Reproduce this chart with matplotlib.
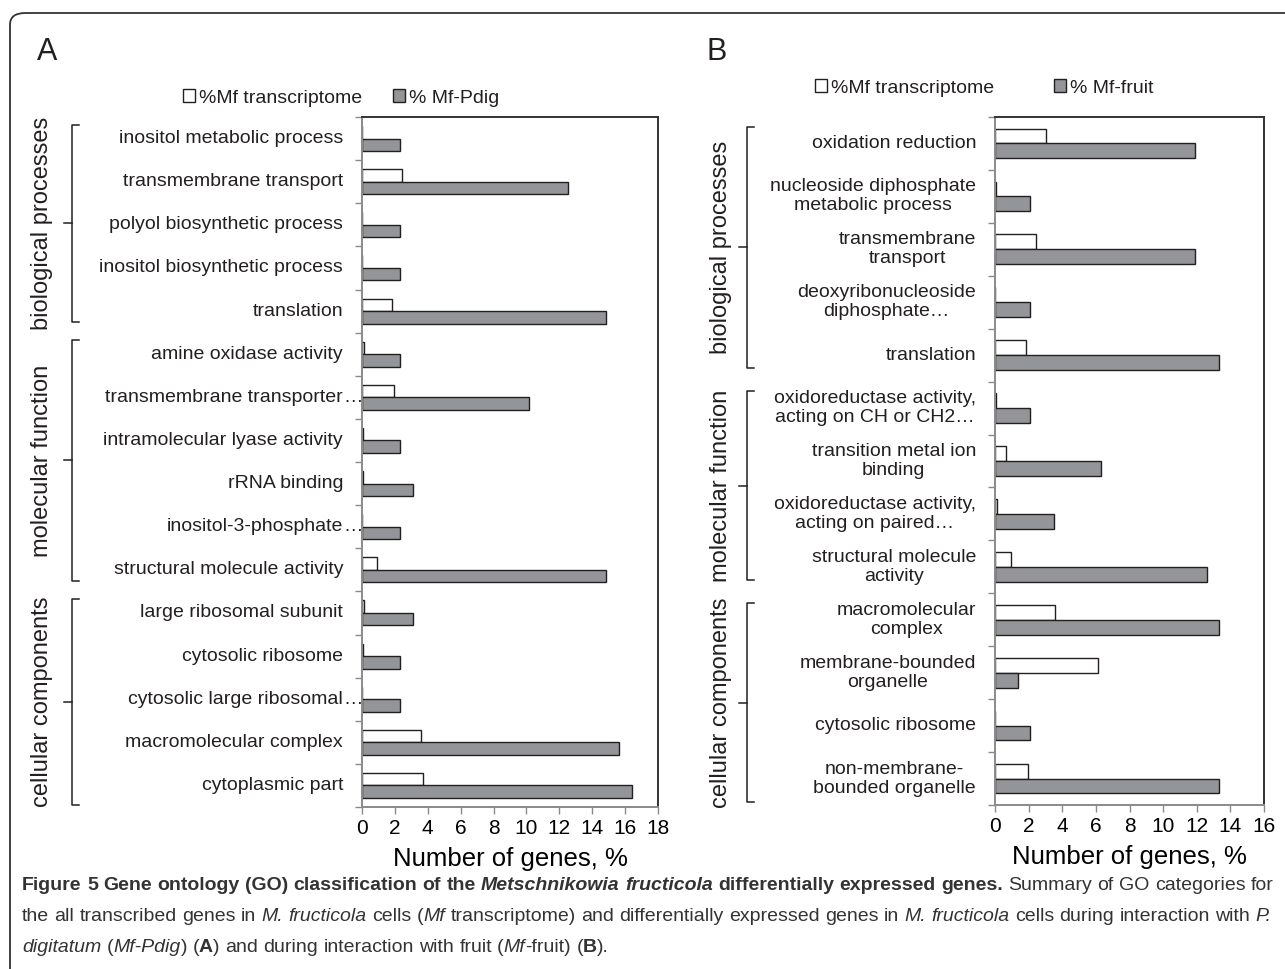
import re
import matplotlib
matplotlib.use('Agg')
import matplotlib.pyplot as plt
from matplotlib import font_manager, transforms
from matplotlib.patches import FancyBboxPatch
from matplotlib.lines import Line2D

# panel A: Mf-Pdig
a_cats = ['inositol metabolic process', 'transmembrane transport', 'polyol biosynthetic process',
          'inositol biosynthetic process', 'translation', 'amine oxidase activity',
          'transmembrane transporter…', 'intramolecular lyase activity', 'rRNA binding',
          'inositol-3-phosphate…', 'structural molecule activity', 'large ribosomal subunit',
          'cytosolic ribosome', 'cytosolic large ribosomal…', 'macromolecular complex',
          'cytoplasmic part']
a_transcriptome = [0.0, 2.45, 0.0, 0.0, 1.82, 0.1, 1.97, 0.05, 0.05, 0.0, 0.93, 0.1, 0.05, 0.0, 3.59, 3.71]
a_pdig = [2.31, 12.5, 2.31, 2.31, 14.84, 2.31, 10.18, 2.31, 3.12, 2.31, 14.84, 3.12, 2.31, 2.31, 15.65, 16.44]
a_groups = [('biological processes', 0, 5), ('molecular function', 5, 11), ('cellular components', 11, 16)]

# panel B: Mf-fruit
b_cats = ['oxidation reduction', 'nucleoside diphosphate\nmetabolic process', 'transmembrane\ntransport',
          'deoxyribonucleoside\ndiphosphate…', 'translation', 'oxidoreductase activity,\nacting on CH or CH2…',
          'transition metal ion\nbinding', 'oxidoreductase activity,\nacting on paired…',
          'structural molecule\nactivity', 'macromolecular\ncomplex', 'membrane-bounded\norganelle',
          'cytosolic ribosome', 'non-membrane-\nbounded organelle']
b_transcriptome = [3.06, 0.03, 2.46, 0.0, 1.83, 0.05, 0.65, 0.1, 0.95, 3.59, 6.12, 0.02, 1.95]
b_fruit = [11.89, 2.08, 11.89, 2.08, 13.3, 2.08, 6.3, 3.5, 12.6, 13.3, 1.39, 2.08, 13.3]
b_groups = [('biological processes', 0, 5), ('molecular function', 5, 9), ('cellular components', 9, 13)]

W, H = 1285, 969
DARK = '#231f20'
GREY = '#939598'
AXGREY = '#8a8a8a'

plt.rcParams['font.family'] = ['Liberation Sans', 'DejaVu Sans']
plt.rcParams['text.color'] = DARK

fig = plt.figure(figsize=(W / 100, H / 100), dpi=100)


def fx(x):
    return x / W


def fy(y):
    return 1 - y / H


# outer frame with rounded corner
frame = FancyBboxPatch((fx(10), fy(1010)), fx(1320), 1010 / H - 13 / H,
                       boxstyle='round,pad=0,rounding_size=0.012', transform=fig.transFigure,
                       facecolor='none', edgecolor='#333333', linewidth=1.3, clip_on=False)
fig.patches.append(frame)


def panel(rect, cats, white, grey, groups, xmax, bar_h, label_x, bracket_x, group_x,
          split_ellipsis, grey_label, letter, letter_x, leg_xy, colspace):
    l, r, t, b = rect
    ax = fig.add_axes([fx(l), fy(b), (r - l) / W, (b - t) / H])
    n = len(cats)
    pos = [i + 0.5 for i in range(n)]
    ax.barh([p - bar_h / 2 for p in pos], white, height=bar_h, color='white',
            edgecolor=DARK, linewidth=1.0, label='%Mf transcriptome')
    ax.barh([p + bar_h / 2 for p in pos], grey, height=bar_h, color=GREY,
            edgecolor=DARK, linewidth=1.0, label=grey_label)
    ax.set_ylim(n, 0)
    ax.set_xlim(0, xmax)
    ax.set_yticks(range(n + 1))
    ax.set_yticklabels([])
    ax.set_xticks(range(0, xmax + 1, 2))
    ax.tick_params(axis='both', direction='out', length=5, width=1, color=AXGREY)
    ax.tick_params(axis='x', labelsize=15, pad=4)
    for s in ('top', 'right'):
        ax.spines[s].set_color('#333333')
        ax.spines[s].set_linewidth(1.4)
    for s in ('left', 'bottom'):
        ax.spines[s].set_color(AXGREY)
        ax.spines[s].set_linewidth(1.4)
    ax.set_xlabel('Number of genes, %', fontsize=18.5, labelpad=6)

    tr = transforms.blended_transform_factory(fig.transFigure, ax.transData)
    for p, c in zip(pos, cats):
        if split_ellipsis and c.endswith('…'):
            ax.text(fx(label_x), p, c[:-1], transform=tr, ha='right', va='center', fontsize=14)
            ax.text(fx(label_x), p, '…', transform=tr, ha='left', va='center', fontsize=14)
        else:
            ax.text(fx(label_x), p, c, transform=tr, ha='right', va='center', fontsize=14,
                    multialignment='center', linespacing=1.15)

    for k, (name, s0, s1) in enumerate(groups):
        y0 = s0 + 0.18
        y1 = s1 - (0.05 if k == len(groups) - 1 else 0.25)
        ym = (y0 + y1) / 2
        bx = fx(bracket_x)
        ex = fx(bracket_x + 7)
        tx = fx(bracket_x - 8)
        fig.add_artist(Line2D([ex, bx, bx, ex], [y0, y0, y1, y1], transform=tr,
                              color=DARK, linewidth=1.1))
        fig.add_artist(Line2D([tx, bx], [ym, ym], transform=tr, color=DARK, linewidth=1.1))
        ax.text(fx(group_x), ym, name, transform=tr, rotation=90, ha='center', va='center',
                fontsize=17)

    fig.text(fx(letter_x), fy(52), letter, fontsize=22, ha='left', va='center')
    ax.legend(loc='center', bbox_to_anchor=(fx(leg_xy[0]), fy(leg_xy[1])),
              bbox_transform=fig.transFigure, ncol=2, frameon=False, fontsize=14,
              handlelength=0.6, handleheight=0.6, handletextpad=0.2,
              columnspacing=colspace, borderpad=0)
    return ax


panel((362, 658, 117, 807), a_cats, a_transcriptome, a_pdig, a_groups, 18, 0.29,
      343, 72, 42, True, '% Mf-Pdig', 'A', 37, (341, 98), 1.6)
panel((995, 1264, 117, 805), b_cats, b_transcriptome, b_fruit, b_groups, 16, 0.28,
      976, 747, 721, False, '% Mf-fruit', 'B', 706, (984, 88), 3.1)

# caption
names = {f.name for f in font_manager.fontManager.ttflist}
cap_family = 'Liberation Sans Narrow' if 'Liberation Sans Narrow' in names else 'Liberation Sans'
N, I, B, BI = ('normal', 'normal'), ('italic', 'normal'), ('normal', 'bold'), ('italic', 'bold')
caption = [
    [('Figure 5 Gene ontology (GO) classification of the ', B), ('Metschnikowia fructicola', BI),
     (' differentially expressed genes.', B), (' Summary of GO categories for', N)],
    [('the all transcribed genes in ', N), ('M. fructicola', I), (' cells (', N), ('Mf', I),
     (' transcriptome) and differentially expressed genes in ', N), ('M. fructicola', I),
     (' cells during interaction with ', N), ('P.', I)],
    [('digitatum', I), (' (', N), ('Mf-Pdig', I), (') (', N), ('A', B),
     (') and during interaction with fruit (', N), ('Mf', I), ('-fruit) (', N), ('B', B), (').', N)],
]
renderer = fig.canvas.get_renderer()


def adv(s, size, st):
    t1 = fig.text(0, 0, '|' + s + '|', fontsize=size, style=st[0], weight=st[1], family=cap_family)
    t2 = fig.text(0, 0, '||', fontsize=size, style=st[0], weight=st[1], family=cap_family)
    w = t1.get_window_extent(renderer).width - t2.get_window_extent(renderer).width
    t1.remove()
    t2.remove()
    return w


def tokens(line):
    out = []
    for s, st in line:
        for tok in re.split(r'( )', s):
            if tok:
                out.append((tok, st))
    return out


def line_width(line, size):
    return sum(adv(tok, size, st) for tok, st in tokens(line))


x0, x1 = 22, 1270
size = 10 * (x1 - x0) / line_width(caption[1], 10)
baselines = [890, 921, 952]
for li, line in enumerate(caption):
    toks = tokens(line)
    extra = 0
    if li < len(caption) - 1:
        nsp = sum(1 for tok, _ in toks if tok == ' ')
        extra = max(0, (x1 - x0) - line_width(line, size)) / max(nsp, 1)
    x = x0
    for tok, st in toks:
        if tok == ' ':
            x += adv(' ', size, st) + extra
            continue
        fig.text(fx(x), fy(baselines[li]), tok, fontsize=size, style=st[0], weight=st[1],
                 family=cap_family, ha='left', va='baseline', color='#333333')
        x += adv(tok, size, st)

fig.savefig('out.png', dpi=100, facecolor='white')
